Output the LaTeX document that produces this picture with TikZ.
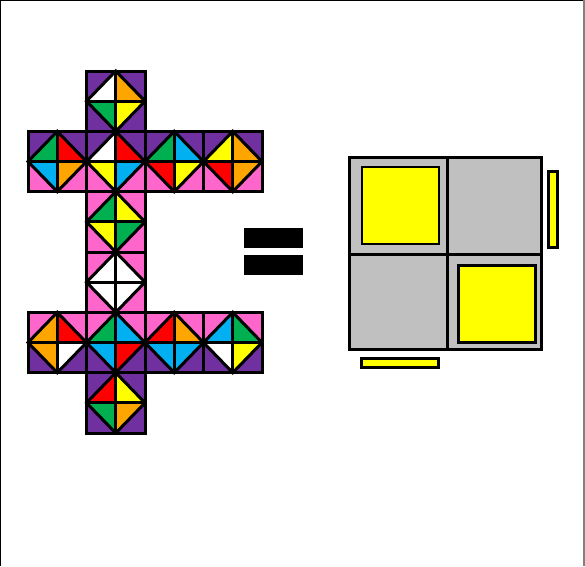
\documentclass[tikz,border=0pt]{standalone}
\definecolor{cpur}{HTML}{7030A0}
\definecolor{cgrn}{HTML}{00B050}
\definecolor{cyel}{HTML}{FFFF00}
\definecolor{cora}{HTML}{FFA500}
\definecolor{cred}{HTML}{FF0000}
\definecolor{cblu}{HTML}{00B0F0}
\definecolor{cpnk}{HTML}{FF66CC}
\definecolor{cwht}{HTML}{FFFFFF}
\definecolor{cgry}{HTML}{C0C0C0}
\newcommand\cubeface[8]{%
\begin{scope}[shift={({28+#2*29.25},{71+#1*30.17})}]
 \fill[#3] (0,0) rectangle (58.5,30.17);
 \fill[#4] (0,30.17) rectangle (58.5,60.34);
 \fill[#5] (29.25,0) -- (29.25,30.17) -- (0,30.17) -- cycle;
 \fill[#6] (29.25,0) -- (29.25,30.17) -- (58.5,30.17) -- cycle;
 \fill[#7] (0,30.17) -- (29.25,30.17) -- (29.25,60.34) -- cycle;
 \fill[#8] (58.5,30.17) -- (29.25,30.17) -- (29.25,60.34) -- cycle;
 \draw[gridline] (29.25,0) -- (58.5,30.17) -- (29.25,60.34) -- (0,30.17) -- cycle;
 \draw[gridline] (29.25,0) -- (29.25,60.34) (0,30.17) -- (58.5,30.17);
 \draw[gridline] (0,0) rectangle (58.5,60.34);
\end{scope}}
\begin{document}
\begin{tikzpicture}[x=1pt,y=-1pt,
  gridline/.style={draw=black,line width=3pt,line join=miter},
  boxline/.style={draw=black,line width=2.8pt}]
\useasboundingbox (0,0) rectangle (585,566);
\draw[black,line width=1.5pt] (0.5,566) -- (0.5,0.5) -- (584,0.5);
\draw[gray,line width=1.5pt] (584.2,0) -- (584.2,566);
% cube net
\cubeface{0}{2}{cpur}{cpur}{cwht}{cora}{cgrn}{cyel}
\cubeface{2}{0}{cpur}{cpnk}{cgrn}{cred}{cblu}{cora}
\cubeface{2}{2}{cpur}{cpnk}{cwht}{cred}{cyel}{cblu}
\cubeface{2}{4}{cpur}{cpnk}{cgrn}{cblu}{cred}{cyel}
\cubeface{2}{6}{cpur}{cpnk}{cyel}{cora}{cred}{cora}
\cubeface{4}{2}{cpnk}{cpnk}{cgrn}{cyel}{cyel}{cgrn}
\cubeface{6}{2}{cpnk}{cpnk}{cwht}{cwht}{cwht}{cwht}
\cubeface{8}{0}{cpnk}{cpur}{cora}{cred}{cora}{cwht}
\cubeface{8}{2}{cpnk}{cpur}{cgrn}{cblu}{cblu}{cred}
\cubeface{8}{4}{cpnk}{cpur}{cred}{cora}{cblu}{cblu}
\cubeface{8}{6}{cpnk}{cpur}{cblu}{cgrn}{cwht}{cyel}
\cubeface{10}{2}{cpur}{cpur}{cred}{cyel}{cgrn}{cora}
% equals sign
\node[fill=black,inner sep=0pt,minimum width=59pt,minimum height=20pt] (eqtop) at (273.7,238) {};
\node[fill=black,inner sep=0pt,minimum width=59pt,minimum height=20pt] (eqbot) at (273.7,264.8) {};
% right figure
\node[boxline,fill=cgry,inner sep=0pt,minimum width=192pt,minimum height=192pt] (board) at (445.6,253.3) {};
\draw[boxline] (447.3,156.7) -- (447.3,350);
\draw[boxline] (349,254.3) -- (542.3,254.3);
\node[boxline,fill=cyel,inner sep=0pt,minimum width=77pt,minimum height=77pt] (sqa) at (400.5,205.4) {};
\node[boxline,fill=cyel,inner sep=0pt,minimum width=77pt,minimum height=77pt] (sqb) at (496.7,303.6) {};
\node[boxline,fill=cyel,inner sep=0pt,minimum width=9pt,minimum height=76pt] (barr) at (553,209.5) {};
\node[boxline,fill=cyel,inner sep=0pt,minimum width=77pt,minimum height=9pt] (barb) at (399.6,362.8) {};
\end{tikzpicture}
\end{document}
